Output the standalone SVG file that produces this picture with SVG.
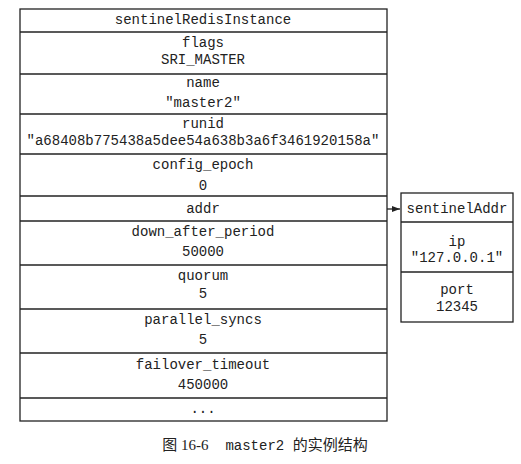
<svg xmlns="http://www.w3.org/2000/svg" width="521" height="464" viewBox="0 0 521 464">
<style>
.box{fill:#fff;stroke:#222;stroke-width:1.3}
.ln{stroke:#222;stroke-width:1.3}
.t{font-family:"Liberation Mono","DejaVu Sans Mono",monospace;font-size:14px;fill:#222;text-anchor:middle;dominant-baseline:central}
.cap{font-family:"Liberation Serif","Noto Sans CJK SC",serif;font-size:15px;fill:#222}
</style>
<defs>
<marker id="ah" markerWidth="8" markerHeight="6" refX="8" refY="3" orient="auto" markerUnits="userSpaceOnUse">
<path d="M0,0 L8,3 L0,6 z" fill="#222"/>
</marker>
</defs>
<g id="sentinelRedisInstance">
<rect class="box" x="20" y="9" width="367" height="412"/>
<line class="ln" x1="20" y1="32" x2="387" y2="32"/>
<line class="ln" x1="20" y1="74" x2="387" y2="74"/>
<line class="ln" x1="20" y1="114" x2="387" y2="114"/>
<line class="ln" x1="20" y1="154" x2="387" y2="154"/>
<line class="ln" x1="20" y1="196" x2="387" y2="196"/>
<line class="ln" x1="20" y1="221" x2="387" y2="221"/>
<line class="ln" x1="20" y1="265" x2="387" y2="265"/>
<line class="ln" x1="20" y1="309" x2="387" y2="309"/>
<line class="ln" x1="20" y1="353" x2="387" y2="353"/>
<line class="ln" x1="20" y1="398" x2="387" y2="398"/>
<text class="t" x="203" y="20">sentinelRedisInstance</text>
<text class="t" x="203" y="43">flags</text>
<text class="t" x="203" y="60">SRI_MASTER</text>
<text class="t" x="203" y="83">name</text>
<text class="t" x="203" y="103">"master2"</text>
<text class="t" x="203" y="124">runid</text>
<text class="t" x="203" y="141">"a68408b775438a5dee54a638b3a6f3461920158a"</text>
<text class="t" x="203" y="165">config_epoch</text>
<text class="t" x="203" y="186">0</text>
<text class="t" x="203" y="209">addr</text>
<text class="t" x="203" y="232">down_after_period</text>
<text class="t" x="203" y="252">50000</text>
<text class="t" x="203" y="276">quorum</text>
<text class="t" x="203" y="294">5</text>
<text class="t" x="203" y="320">parallel_syncs</text>
<text class="t" x="203" y="340">5</text>
<text class="t" x="203" y="365">failover_timeout</text>
<text class="t" x="203" y="385">450000</text>
<text class="t" x="203" y="409">...</text>
</g>
<g id="sentinelAddr">
<rect class="box" x="401" y="193" width="112" height="129"/>
<line class="ln" x1="401" y1="222" x2="513" y2="222"/>
<line class="ln" x1="401" y1="272" x2="513" y2="272"/>
<text class="t" x="457" y="209">sentinelAddr</text>
<text class="t" x="457" y="242">ip</text>
<text class="t" x="457" y="258">"127.0.0.1"</text>
<text class="t" x="457" y="290">port</text>
<text class="t" x="457" y="307">12345</text>
</g>
<g id="connectors">
<line class="ln" x1="387" y1="209" x2="400" y2="209" stroke-width="1" marker-end="url(#ah)"/>
</g>
<text class="cap" x="265" y="450" text-anchor="middle">图 16-6<tspan font-family="Liberation Mono,monospace" font-size="14px" xml:space="preserve">  master2 </tspan>的实例结构</text>
</svg>
